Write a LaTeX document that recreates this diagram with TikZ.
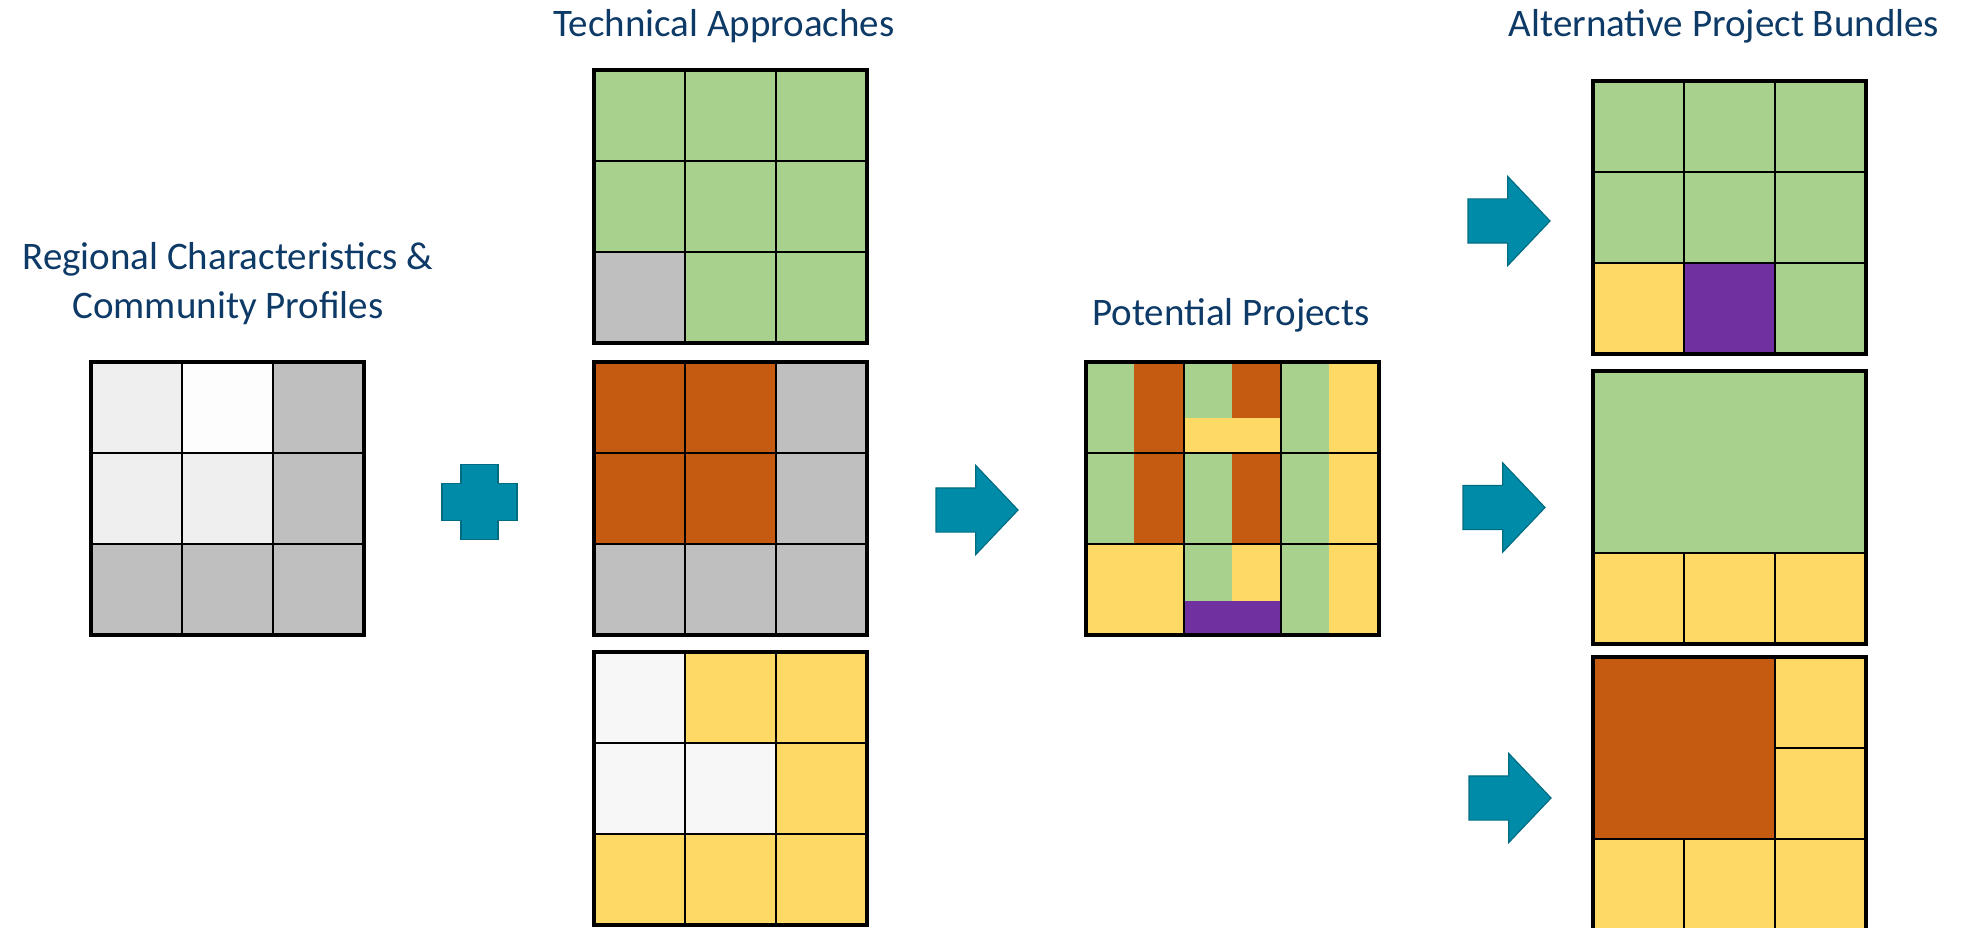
\documentclass[tikz,border=0pt]{standalone}
\usepackage{fontspec}
\setmainfont{Carlito}
\usetikzlibrary{positioning,shapes.arrows}

\definecolor{leaf}{HTML}{A9D18E}
\definecolor{rust}{HTML}{C55A11}
\definecolor{sand}{HTML}{FFD966}
\definecolor{plum}{HTML}{7030A0}
\definecolor{ash}{HTML}{BFBFBF}
\definecolor{mist}{HTML}{EFEFEF}
\definecolor{snow}{HTML}{FDFDFD}
\definecolor{pale}{HTML}{F7F7F7}
\definecolor{arrowfill}{HTML}{008CA8}
\definecolor{arrowline}{HTML}{006C82}
\definecolor{titleblue}{HTML}{0D3A66}

\tikzset{
  board/.style={inner sep=0pt, outer sep=0pt, minimum width=273pt, minimum height=273pt},
  frame/.style={draw=black, line width=4pt},
  cell/.style={draw=black, line width=1.75pt},
  title/.style={font=\fontsize{39}{49}\selectfont, text=titleblue, align=center, inner sep=0pt},
  flow/.style={single arrow, draw=arrowline, fill=arrowfill, line width=1.2pt,
    minimum height=82pt, single arrow head extend=22.5pt,
    single arrow tip angle=93, inner xsep=0pt, inner ysep=21.5pt, outer sep=0pt},
  plusmark/.style={draw=arrowline, fill=arrowfill, line width=1.2pt}
}

\newcommand{\ninecells}[1]{%
  \foreach \cc [count=\n from 0] in {#1} {
    \pgfmathtruncatemacro{\rr}{\n/3}
    \pgfmathtruncatemacro{\kk}{\n-3*\rr}
    \filldraw[cell, fill=\cc] (\kk*91,\rr*91) rectangle ++(91,91);
  }}

\begin{document}
\begin{tikzpicture}[x=1pt, y=-1pt]
  \useasboundingbox (0,0) rectangle (1965,928);
  \clip (0,0) rectangle (1965,928);

  \node[board] (techmid) at (730.5,498.5) {};
  \node[board, above=19pt of techmid] (techtop) {};
  \node[board, below=17pt of techmid] (techbot) {};
  \node[board, left=230pt of techmid] (reg) {};
  \node[board, right=219pt of techmid, minimum width=293pt] (pot) {};
  \node[board] (bundmid) at (1729.5,507.5) {};
  \node[board, above=17pt of bundmid] (bundtop) {};
  \node[board, below=13pt of bundmid] (bundbot) {};

  \begin{scope}[shift={(reg.north west)}]
    \ninecells{mist,snow,ash, mist,mist,ash, ash,ash,ash}
  \end{scope}
  \begin{scope}[shift={(techtop.north west)}]
    \ninecells{leaf,leaf,leaf, leaf,leaf,leaf, ash,leaf,leaf}
  \end{scope}
  \begin{scope}[shift={(techmid.north west)}]
    \ninecells{rust,rust,ash, rust,rust,ash, ash,ash,ash}
  \end{scope}
  \begin{scope}[shift={(techbot.north west)}]
    \ninecells{pale,sand,sand, pale,pale,sand, sand,sand,sand}
  \end{scope}
  \begin{scope}[shift={(bundtop.north west)}]
    \ninecells{leaf,leaf,leaf, leaf,leaf,leaf, sand,plum,leaf}
  \end{scope}
  \begin{scope}[shift={(bundmid.north west)}]
    \filldraw[cell, fill=leaf] (0,0) rectangle (273,182);
    \foreach \k in {0,1,2}
      \filldraw[cell, fill=sand] (\k*91,182) rectangle ++(91,91);
  \end{scope}
  \begin{scope}[shift={(bundbot.north west)}]
    \filldraw[cell, fill=rust] (0,0) rectangle (182,182);
    \filldraw[cell, fill=sand] (182,0) rectangle (273,91);
    \filldraw[cell, fill=sand] (182,91) rectangle (273,182);
    \foreach \k in {0,1,2}
      \filldraw[cell, fill=sand] (\k*91,182) rectangle ++(91,91);
  \end{scope}

  \begin{scope}[shift={(pot.north west)}]
    \fill[leaf] (0,0) rectangle (48,182);
    \fill[rust] (48,0) rectangle (97.67,182);
    \fill[sand] (0,182) rectangle (97.67,273);
    \fill[leaf] (97.67,0) rectangle (145.67,273);
    \fill[rust] (145.67,0) rectangle (195.33,182);
    \fill[sand] (145.67,182) rectangle (195.33,273);
    \fill[sand] (97.67,56) rectangle (195.33,91);
    \fill[plum] (97.67,239) rectangle (195.33,273);
    \fill[leaf] (195.33,0) rectangle (243.33,273);
    \fill[sand] (243.33,0) rectangle (293,273);
    \draw[cell] (97.67,0) -- (97.67,273) (195.33,0) -- (195.33,273)
      (0,91) -- (293,91) (0,182) -- (293,182);
  \end{scope}

  \foreach \b in {reg,techtop,techmid,techbot,pot,bundtop,bundmid,bundbot}
    \draw[frame] (\b.north west) rectangle (\b.south east);

  \coordinate[right=115.5pt of reg, yshift=-3.5pt] (plus);
  \draw[plusmark] (plus) ++(-18.5,-37.5) -- ++(37,0) -- ++(0,19) -- ++(19,0)
    -- ++(0,37) -- ++(-19,0) -- ++(0,19) -- ++(-37,0) -- ++(0,-19)
    -- ++(-19,0) -- ++(0,-37) -- ++(19,0) -- cycle;

  \node[flow, right=69pt of techmid, yshift=-11.5pt] (toproj) {};
  \node[flow, left=43pt of bundtop, yshift=-3.5pt] (tobundtop) {};
  \node[flow, left=48pt of bundmid] (tobundmid) {};
  \node[flow, left=42pt of bundbot, yshift=-4.5pt] (tobundbot) {};

  \node[title, anchor=base] (reglabel) at (228,318) {Regional Characteristics \&\\Community Profiles};
  \node[title, anchor=base] (techlabel) at (724,37) {Technical Approaches};
  \node[title, anchor=base] (potlabel) at (1231,325) {Potential Projects};
  \node[title, anchor=base] (bundlabel) at (1724,37) {Alternative Project Bundles};
\end{tikzpicture}
\end{document}
